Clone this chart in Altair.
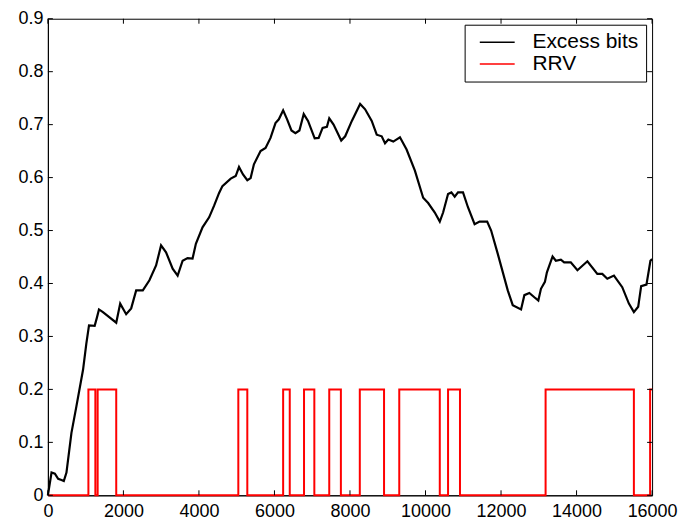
import altair as alt
import pandas as pd

# Excess bits curve (traced)
excess_x = [0, 97, 185, 272, 360, 422, 492, 624, 755, 931, 1019, 1089, 1239, 1300, 1353, 1458,
            1810, 1915, 2073, 2206, 2338, 2514, 2689, 2865, 2997, 3129, 3304, 3436, 3568, 3699,
            3831, 3919, 4095, 4270, 4402, 4534, 4622, 4842, 4974, 5061, 5167, 5281, 5369, 5456,
            5632, 5764, 5896, 6027, 6116, 6230, 6335, 6450, 6555, 6661, 6775, 6889, 7065, 7170,
            7275, 7389, 7451, 7565, 7768, 7873, 8049, 8269, 8401, 8576, 8708, 8840, 8928, 9015,
            9147, 9323, 9499, 9719, 9938, 10070, 10246, 10378, 10466, 10597, 10685, 10773, 10861,
            10993, 11124, 11300, 11432, 11633, 11738, 11914, 12178, 12310, 12530, 12618, 12750,
            12882, 12987, 13057, 13162, 13215, 13365, 13452, 13584, 13672, 13847, 14023, 14287,
            14550, 14682, 14814, 14990, 15210, 15386, 15518, 15632, 15711, 15851, 15956, 16000]
excess_y = [0.0, 0.043, 0.041, 0.031, 0.029, 0.027, 0.043, 0.118, 0.168, 0.237, 0.287, 0.321, 0.320,
            0.336, 0.351, 0.346, 0.326, 0.362, 0.342, 0.353, 0.387, 0.387, 0.406, 0.434, 0.472,
            0.459, 0.428, 0.415, 0.443, 0.448, 0.447, 0.475, 0.506, 0.525, 0.547, 0.571, 0.584,
            0.598, 0.603, 0.620, 0.606, 0.595, 0.599, 0.625, 0.650, 0.656, 0.675, 0.703, 0.710,
            0.727, 0.710, 0.689, 0.684, 0.689, 0.720, 0.707, 0.674, 0.675, 0.694, 0.696, 0.712,
            0.700, 0.670, 0.678, 0.707, 0.739, 0.729, 0.707, 0.681, 0.678, 0.665, 0.672, 0.668,
            0.676, 0.653, 0.613, 0.562, 0.552, 0.534, 0.517, 0.534, 0.569, 0.572, 0.564, 0.572,
            0.572, 0.544, 0.512, 0.517, 0.517, 0.500, 0.456, 0.387, 0.359, 0.351, 0.378, 0.382,
            0.374, 0.368, 0.390, 0.403, 0.421, 0.451, 0.443, 0.445, 0.440, 0.440, 0.425, 0.442,
            0.418, 0.418, 0.409, 0.415, 0.393, 0.362, 0.346, 0.356, 0.395, 0.398, 0.443, 0.446]

# RRV step signal (value holds from each x until the next)
rrv_x = [0, 1073, 1257, 1318, 1810, 5043, 5281, 6230, 6405, 6783, 7056, 7451, 7759, 8260, 8902,
         9305, 10378, 10597, 10913, 13180, 15518, 15948, 16000]
rrv_y = [0, 0.2, 0, 0.2, 0, 0.2, 0, 0.2, 0, 0.2, 0, 0.2, 0, 0.2, 0, 0.2, 0, 0.2, 0, 0.2, 0, 0.2, 0.2]

x_ticks = [0, 2000, 4000, 6000, 8000, 10000, 12000, 14000, 16000]
y_ticks = [0, 0.1, 0.2, 0.3, 0.4, 0.5, 0.6, 0.7, 0.8, 0.9]

series = ["Excess bits", "RRV"]
colors = ["black", "red"]

W, H = 606, 478
TL = 5

df_ex = pd.DataFrame({"x": excess_x, "y": excess_y, "s": series[0]})
df_rrv = pd.DataFrame({"x": rrv_x, "y": rrv_y, "s": series[1]})
df_xt = pd.DataFrame({"x": x_ticks})
df_yt = pd.DataFrame({"y": y_ticks})

xscale = alt.Scale(domain=[0, 16000], nice=False, zero=False)
yscale = alt.Scale(domain=[0, 0.9], nice=False)
cscale = alt.Scale(domain=series, range=colors)

xaxis = alt.Axis(values=x_ticks, format="d", title=None, grid=False, tickSize=0,
                 labelPadding=7, labelFlush=False)
yaxis = alt.Axis(values=y_ticks, title=None, grid=False, tickSize=0, labelPadding=5,
                 labelExpr="datum.value == 0 ? '0' : format(datum.value, '.1f')")

legend = alt.Legend(title=None, orient="top-right", offset=6, strokeColor="black",
                    fillColor="white", padding=7, symbolType="M-0.33,0L4.67,0", symbolSize=196,
                    symbolStrokeWidth=1.5, labelFontSize=21, labelFont="Liberation Sans",
                    labelColor="black", labelOffset=40, rowPadding=0)

X = alt.X("x:Q", scale=xscale, axis=xaxis)
Y = alt.Y("y:Q", scale=yscale, axis=yaxis)

line_ex = alt.Chart(df_ex).mark_line(strokeWidth=2.2).encode(
    x=X, y=Y,
    color=alt.Color("s:N", scale=cscale, legend=legend),
)

line_rrv = alt.Chart(df_rrv).mark_line(strokeWidth=2, interpolate="step-after").encode(
    x=X, y=Y,
    color=alt.Color("s:N", scale=cscale, legend=legend),
)

tick_b = alt.Chart(df_xt).mark_rule(color="black", strokeWidth=1).encode(
    x=X, y=alt.value(H), y2=alt.value(H - TL))
tick_t = alt.Chart(df_xt).mark_rule(color="black", strokeWidth=1).encode(
    x=X, y=alt.value(0), y2=alt.value(TL))
tick_l = alt.Chart(df_yt).mark_rule(color="black", strokeWidth=1).encode(
    y=Y, x=alt.value(0), x2=alt.value(TL))
tick_r = alt.Chart(df_yt).mark_rule(color="black", strokeWidth=1).encode(
    y=Y, x=alt.value(W), x2=alt.value(W - TL))

chart = alt.layer(line_rrv, line_ex, tick_b, tick_t, tick_l, tick_r).properties(
    width=W, height=H,
    autosize=alt.AutoSizeParams(type="none"),
    padding={"left": 40, "top": 10, "right": 28, "bottom": 25},
).configure_view(
    stroke="black", strokeWidth=1
).configure_axis(
    domainColor="black", domainWidth=1, labelFont="Liberation Sans", labelFontSize=18,
    labelColor="black"
)

chart.save("out.html", embed_options={"renderer": "svg", "actions": False})
